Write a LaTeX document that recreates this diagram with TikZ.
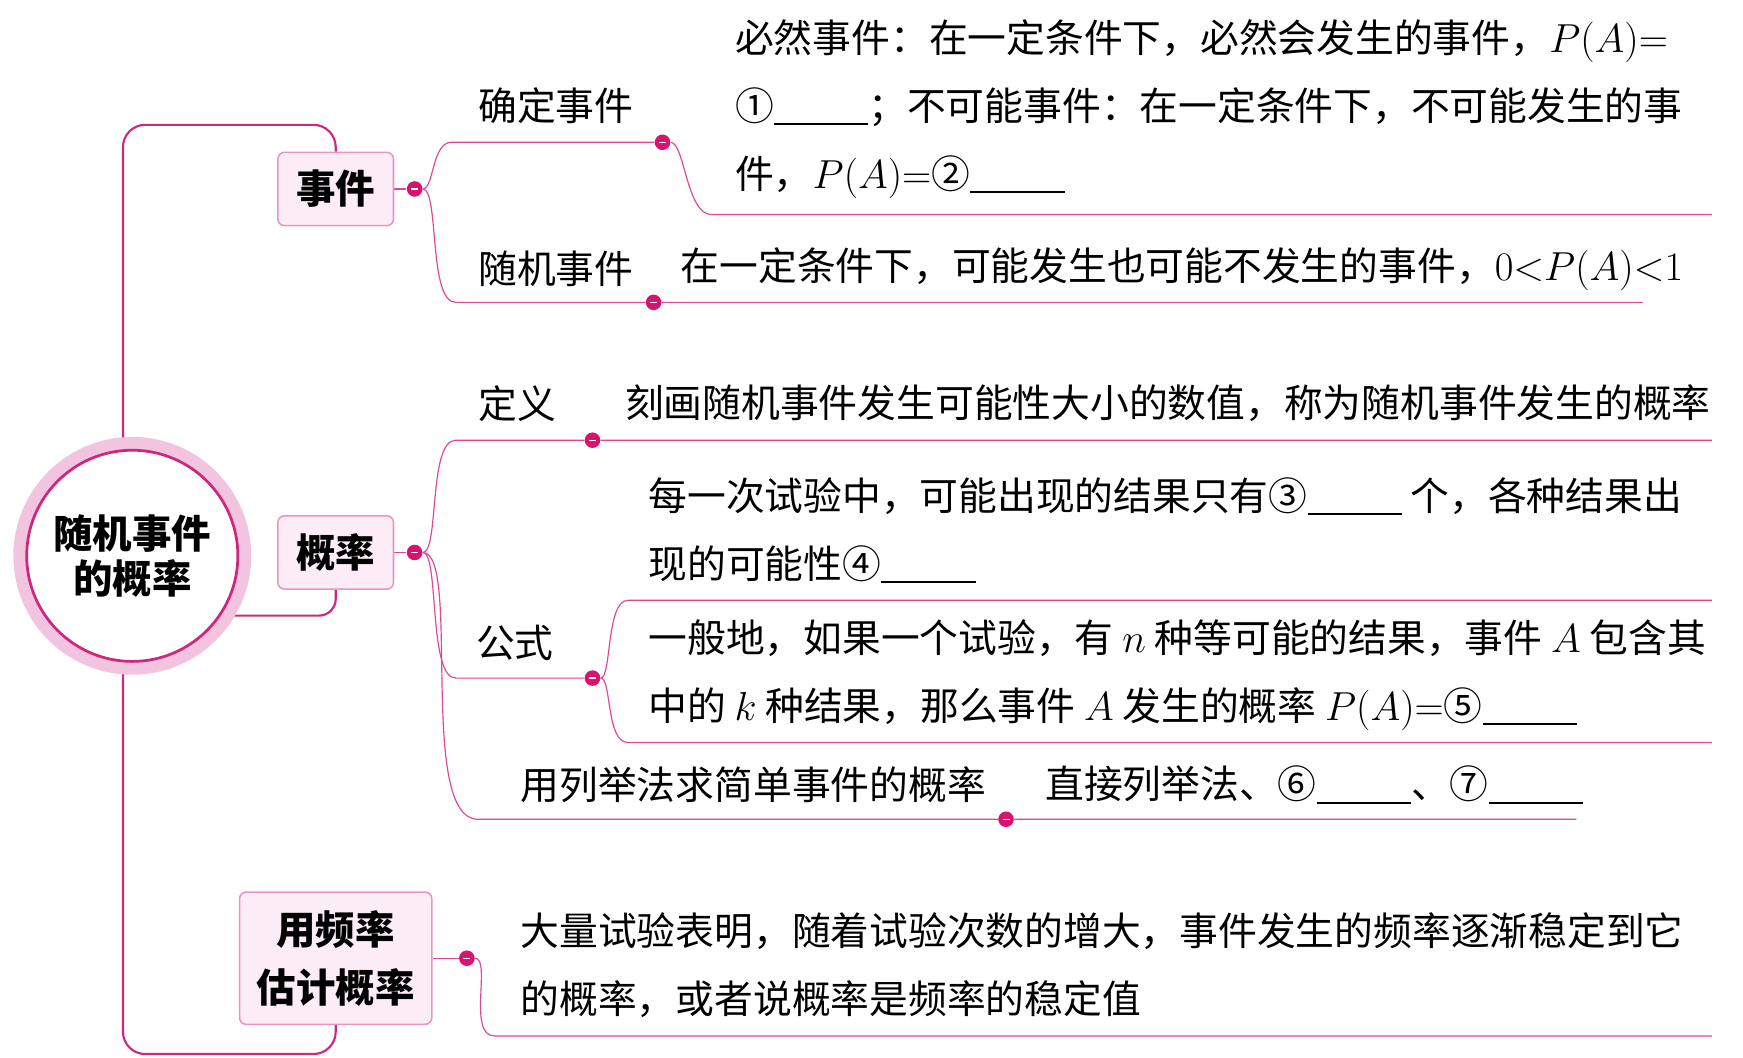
\documentclass[tikz,border=0pt]{standalone}
\usepackage{fontspec}
\setmainfont{Noto Sans CJK SC}
\usetikzlibrary{calc, positioning}
\definecolor{linepink}{RGB}{222,72,150}
\definecolor{trunkpink}{RGB}{205,40,125}
\definecolor{dotpink}{RGB}{214,20,110}
\definecolor{boxfill}{RGB}{251,236,245}
\definecolor{boxline}{RGB}{232,150,192}
\definecolor{ringpink}{RGB}{243,196,223}
\newcommand{\blank}{\rule[-0.12em]{1.7cm}{0.9pt}}
\pgfdeclarelayer{background}
\pgfsetlayers{background,main}
\tikzset{
  root/.style={circle, draw=trunkpink, line width=1.4pt, fill=white, minimum size=3.8cm, align=center, font=\fontsize{20.2}{23}\selectfont\bfseries, preaction={draw=ringpink, line width=0.48cm}},
  topic/.style={rectangle, rounded corners=0.12cm, draw=boxline, line width=0.8pt, fill=boxfill, minimum width=2.08cm, minimum height=1.32cm, align=center, font=\fontsize{20.2}{29.5}\selectfont\bfseries},
  dot/.style={circle, fill=dotpink, inner sep=0pt, minimum size=0.28cm, path picture={\draw[white, line width=0.7pt] ([xshift=-1.8pt]path picture bounding box.center) -- ([xshift=1.8pt]path picture bounding box.center);}},
  note/.style={anchor=west, inner sep=0pt, align=left, font=\fontsize{19.85}{34.7}\selectfont},
  trunk/.style={draw=trunkpink, line width=1.1pt},
  branch/.style={draw=linepink, line width=0.6pt}
}

\begin{document}
\begin{tikzpicture}[x=0.02cm, y=-0.02cm]
  \useasboundingbox (0,0) rectangle (1568,951);

  \node (main) [root] at (119,500) {随机事件\\的概率};
  \node (event) [topic] at (302,170) {事件};
  \node (prob) [topic] at (302,497) {概率};
  \node (freq) [topic, minimum width=3.46cm, minimum height=2.38cm] at (302,862) {用频率\\估计概率};

  \node (dotevent) [dot] at (373,170) {};
  \node (dotprob) [dot] at (373,497) {};
  \node (dotfreq) [dot] at (420,862) {};
  \node (dotsure) [dot] at (596,128) {};
  \node (dotrandom) [dot] at (588,272) {};
  \node (dotdef) [dot] at (533,396) {};
  \node (dotformula) [dot] at (533,610) {};
  \node (dotlist) [dot] at (905,737) {};

  \coordinate (sureend) at (1540,193);
  \coordinate (randomend) at (1478,272);
  \coordinate (defend) at (1540,396);
  \coordinate (formulaend1) at (1540,540);
  \coordinate (formulaend2) at (1540,668);
  \coordinate (listend) at (1418,737);
  \coordinate (freqend) at (1540,932);

  \node (sure) [note] at (430,95) {确定事件};
  \node (random) [note] at (430,242) {随机事件};
  \node (def) [note] at (430,363) {定义};
  \node (formula) [note] at (428,578) {公式};
  \node (list) [note] at (468,706) {用列举法求简单事件的概率};

  \node (suretext) [note] at (661,98) {必然事件：在一定条件下，必然会发生的事件，$P(A){=}$\\①\blank；不可能事件：在一定条件下，不可能发生的事\\件，$P(A){=}$②\blank};
  \node (randomtext) [note] at (612,242) {在一定条件下，可能发生也可能不发生的事件，$0{<}P(A){<}1$};
  \node (deftext) [note] at (562,363) {刻画随机事件发生可能性大小的数值，称为随机事件发生的概率};
  \node (formulatext1) [note] at (583,477) {每一次试验中，可能出现的结果只有③\blank{} 个，各种结果出\\现的可能性④\blank};
  \node (formulatext2) [note] at (583,607) {一般地，如果一个试验，有 $n$ 种等可能的结果，事件 $A$ 包含其\\中的 $k$ 种结果，那么事件 $A$ 发生的概率 $P(A){=}$⑤\blank};
  \node (listtext) [note] at (940,706) {直接列举法、⑥\blank、⑦\blank};
  \node (freqtext) [note] at (468,868) {大量试验表明，随着试验次数的增大，事件发生的频率逐渐稳定到它\\的概率，或者说概率是频率的稳定值};

  \begin{pgfonlayer}{background}
    \draw [trunk, rounded corners=0.4cm] (main.95) |- ($(event.north)+(0,-24)$) -- (event.north);
    \draw [trunk, rounded corners=0.3cm] (main.-34) -| (prob.south);
    \draw [trunk, rounded corners=0.4cm] (main.265) |- ($(freq.south)+(0,26)$) -- (freq.south);

    \draw [branch] (event) -- (dotevent);
    \draw [branch] (prob) -- (dotprob);
    \draw [branch] (freq) -- (dotfreq);

    \draw [branch] (dotevent) to[out=0, in=180, out distance=0.2cm, in distance=0.35cm] ($(dotsure)+(-190,0)$) -- (dotsure) to[out=0, in=180, out distance=0.25cm, in distance=0.45cm] ($(sureend)+(-900,0)$) -- (sureend);
    \draw [branch] (dotevent) to[out=0, in=180, out distance=0.3cm, in distance=0.5cm] ($(dotrandom)+(-178,0)$) -- (dotrandom) -- (randomend);
    \draw [branch] (dotprob) to[out=0, in=180, out distance=0.3cm, in distance=0.5cm] ($(dotdef)+(-123,0)$) -- (dotdef) -- (defend);
    \draw [branch] (dotprob) to[out=0, in=180, out distance=0.3cm, in distance=0.5cm] ($(dotformula)+(-123,0)$) -- (dotformula);
    \draw [branch] (dotformula) to[out=0, in=180, out distance=0.2cm, in distance=0.4cm] ($(formulaend1)+(-975,0)$) -- (formulaend1);
    \draw [branch] (dotformula) to[out=0, in=180, out distance=0.2cm, in distance=0.4cm] ($(formulaend2)+(-975,0)$) -- (formulaend2);
    \draw [branch] (dotprob) to[out=0, in=180, out distance=0.7cm, in distance=1.1cm] ($(dotlist)+(-475,0)$) -- (dotlist) -- (listend);
    \draw [branch] (dotfreq) to[out=0, in=180, out distance=0.3cm, in distance=0.5cm] ($(freqend)+(-1095,0)$) -- (freqend);
  \end{pgfonlayer}
\end{tikzpicture}
\end{document}
